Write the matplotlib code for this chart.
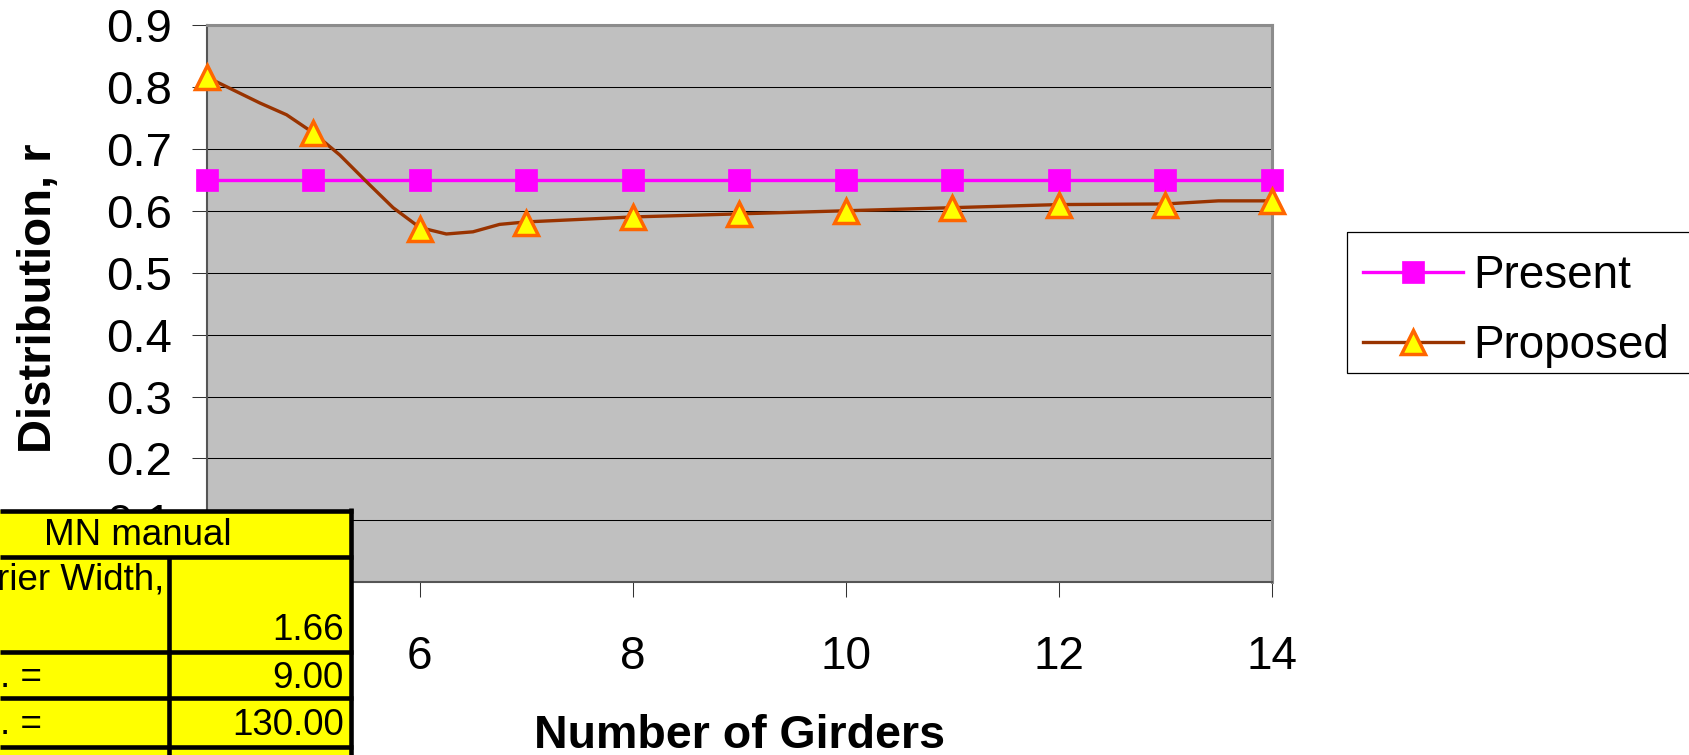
import matplotlib
matplotlib.use("Agg")
import matplotlib.pyplot as plt
from matplotlib.lines import Line2D
from matplotlib.patches import Rectangle
from matplotlib.transforms import Bbox

plt.rcParams["font.family"] = ["Liberation Sans", "DejaVu Sans"]

# distribution factor vs number of girders
girders = [4, 5, 6, 7, 8, 9, 10, 11, 12, 13, 14]
present = [0.65, 0.65, 0.65, 0.65, 0.65, 0.65, 0.65, 0.65, 0.65, 0.65, 0.65]
proposed = [0.816, 0.726, 0.571, 0.581, 0.590, 0.595, 0.600, 0.605, 0.610, 0.610, 0.615]

# smoothed trace of the proposed values
proposed_curve_x = [4, 4.5, 4.75, 5, 5.25, 5.5, 5.75, 6, 6.25, 6.5, 6.75, 7,
                    8, 9, 10, 11, 12, 13, 13.5, 14]
proposed_curve_y = [0.816, 0.774, 0.755, 0.726, 0.690, 0.647, 0.605, 0.573, 0.5625,
                    0.566, 0.578, 0.582, 0.590, 0.595, 0.600, 0.605, 0.610, 0.611,
                    0.616, 0.616]

x_ticks = [4, 6, 8, 10, 12, 14]
y_ticks = [0.0, 0.1, 0.2, 0.3, 0.4, 0.5, 0.6, 0.7, 0.8, 0.9]
# the zero label sits under the pasted table
y_tick_labels = ["", "0.1", "0.2", "0.3", "0.4", "0.5", "0.6", "0.7", "0.8", "0.9"]

# input cells pasted over the chart
table_title = "MN manual"
table_labels = ["rier Width,", ". =", ". ="]
table_values = ["1.66", "9.00", "130.00"]

W, H = 1690, 755
fig = plt.figure(figsize=(W / 100, H / 100), dpi=100)

# plot area in pixels: left 206.7, right 1271.7, top 25, bottom 582.3
ax = fig.add_axes([206.7 / W, 1 - 582.3 / H, 1065 / W, 557.3 / H])
ax.set_facecolor("#C0C0C0")

present_style = dict(color="#FF00FF", lw=2.4, marker="s", ms=16.5,
                     mfc="#FF00FF", mec="#FF00FF", mew=0.5)
tri_style = dict(marker="^", ms=17, mfc="#FFFF00", mec="#FF6600", mew=2.5)

ax.plot(girders, present, zorder=3, clip_on=False, **present_style)
ax.plot(proposed_curve_x, proposed_curve_y, color="#993300", lw=2.4, zorder=4,
        clip_on=False)
ax.plot(girders, proposed, ls="none", zorder=5, clip_on=False, **tri_style)

ax.set_xlim(4, 14)
ax.set_ylim(0, 0.9)
ax.set_xticks(x_ticks)
ax.set_yticks(y_ticks)
ax.set_yticklabels(y_tick_labels)
ax.yaxis.grid(True, color="black", lw=0.75)
ax.set_axisbelow(True)

ax.tick_params(axis="both", direction="out", length=10.8, width=0.75,
               color="#333333")
ax.tick_params(axis="x", pad=27, labelsize=33)
ax.tick_params(axis="y", pad=14, labelsize=34)

for side in ("left", "bottom"):
    ax.spines[side].set_color("#555555")
    ax.spines[side].set_linewidth(1.5)
for side in ("top", "right"):
    ax.spines[side].set_color("#8C8C8C")
    ax.spines[side].set_linewidth(2.2)

ax.set_xlabel("Number of Girders", fontsize=33.5, fontweight="bold", va="baseline")
ax.xaxis.set_label_coords(0.5, (582.3 - 748) / 557.3)

# axis title runs past the top of the canvas, so only part of it shows
ylab = fig.text(51 / W, 1 - 453 / H, "Distribution, r", rotation=90,
                rotation_mode="anchor", ha="left", va="baseline",
                fontsize=34, fontweight="bold")
ylab.set_clip_box(Bbox.from_extents(0, 0, W, H - 145))

handles = [
    Line2D([], [], **present_style),
    Line2D([], [], color="#993300", lw=2.4, **tri_style),
]
ax.legend(handles, ["Present", "Proposed"], loc="upper left",
          bbox_to_anchor=(1346.7 / W, 1 - 238 / H),
          bbox_transform=fig.transFigure, borderaxespad=0,
          fontsize=33, frameon=False, handlelength=2.18, handletextpad=0.22,
          borderpad=0.36, labelspacing=0.55)

# overlay in pixel units: legend box and the yellow input table
tab = fig.add_axes([0, 0, 1, 1], zorder=5)
tab.set_xlim(0, W)
tab.set_ylim(H, 0)
tab.axis("off")
tab.patch.set_visible(False)

tab.add_patch(Rectangle((1346.7, 231.7), 400, 141.6, facecolor="none",
                        edgecolor="black", lw=0.9, clip_on=False))

tab.add_patch(Rectangle((0, 510), 351, H - 510, facecolor="#FFFF00",
                        edgecolor="none"))
row_lines = [510.5, 557, 651.5, 697.5, 746.5]
for y in row_lines:
    tab.plot([0, 353.3], [y, y], color="black", lw=3.3, solid_capstyle="butt")
tab.plot([351, 351], [508.3, H], color="black", lw=3.3, solid_capstyle="butt")
tab.plot([169.3, 169.3], [557, H], color="black", lw=3.3, solid_capstyle="butt")

cell_font = dict(fontsize=26.5, va="baseline", color="black")
tab.text(138, 545, table_title, ha="center", **cell_font)

label_baselines = [590, 687, 734]
label_right = [164, 42, 42]
value_baselines = [640, 688, 735]
for lab, val, yl, xl, yv in zip(table_labels, table_values, label_baselines,
                                label_right, value_baselines):
    tab.text(xl, yl, lab, ha="right", **cell_font)
    tab.text(344, yv, val, ha="right", **cell_font)

fig.savefig("out.png", dpi=100)
